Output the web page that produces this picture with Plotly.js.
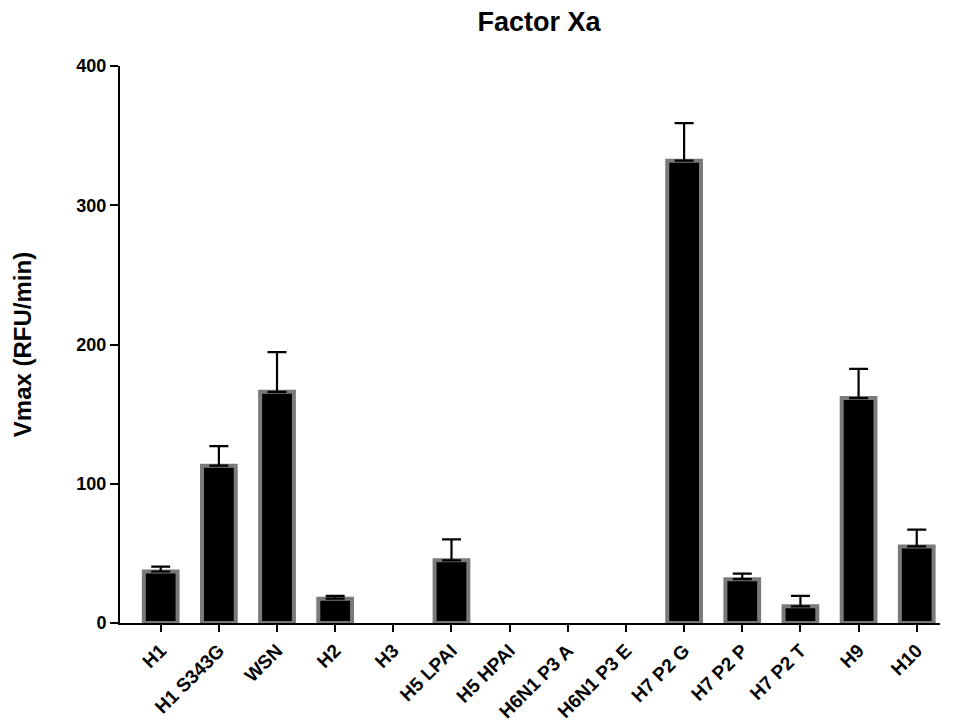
<!DOCTYPE html>
<html>
<head>
<meta charset="utf-8">
<script src="https://cdn.plot.ly/plotly-3.0.1.min.js"></script>
<style>html,body{margin:0;padding:0;background:#fff;}#chart{width:959px;height:726px;}</style>
</head>
<body>
<div id="chart"></div>
<script>
const categories = ["H1","H1 S343G","WSN","H2","H3","H5 LPAI","H5 HPAI","H6N1 P3 A","H6N1 P3 E","H7 P2 G","H7 P2 P","H7 P2 T","H9","H10"];
const vmax = [37, 113, 166, 17.5, 0, 45, 0, 0, 0, 332, 31.5, 12, 161.5, 55];
const errUp = [3.5, 14, 28.5, 2, null, 15, null, null, null, 27, 4, 7.5, 21, 12];
const yTicks = [0, 100, 200, 300, 400];

const trace = {
  type: 'bar',
  x: categories,
  y: vmax.map(v => v === 0 ? null : v),
  width: 0.58,
  marker: { color: '#000000', line: { color: '#7a7a7a', width: 4 } },
  error_y: {
    type: 'data', symmetric: false, array: errUp,
    arrayminus: errUp.map(v => v === null ? null : 0),
    color: '#000000', thickness: 2.2, width: 9.5
  },
  hoverinfo: 'none'
};

const fontFam = 'Liberation Sans, Arial, sans-serif';
const layout = {
  width: 959, height: 726,
  margin: { l: 120, r: 19, t: 66, b: 103 },
  paper_bgcolor: '#ffffff', plot_bgcolor: '#ffffff',
  showlegend: false,
  title: { text: '<b>Factor Xa</b>', x: 0.511, xref: 'paper', y: 0.971, yref: 'container',
           xanchor: 'center', yanchor: 'middle',
           font: { family: fontFam, size: 27, color: '#000' } },
  xaxis: {
    type: 'category', range: [-0.7, 13.4],
    showline: true, linecolor: '#000', linewidth: 2,
    ticks: 'outside', ticklen: 7, tickwidth: 2, tickcolor: '#000',
    tickangle: -45, showgrid: false, zeroline: false,
    tickfont: { family: fontFam, size: 19, color: '#000', weight: 'bold' }
  },
  yaxis: {
    range: [0, 400], tickvals: yTicks, ticktext: yTicks.map(String),
    showline: true, linecolor: '#000', linewidth: 2,
    ticks: 'outside', ticklen: 8, tickwidth: 2, tickcolor: '#000',
    showgrid: false, zeroline: false,
    tickfont: { family: fontFam, size: 18, color: '#000', weight: 'bold' },
    title: { text: '<b>Vmax (RFU/min)</b>', standoff: 38, font: { family: fontFam, size: 24, color: '#000' } }
  }
};

Plotly.newPlot('chart', [trace], layout, { displayModeBar: false, staticPlot: true });
</script>
</body>
</html>
